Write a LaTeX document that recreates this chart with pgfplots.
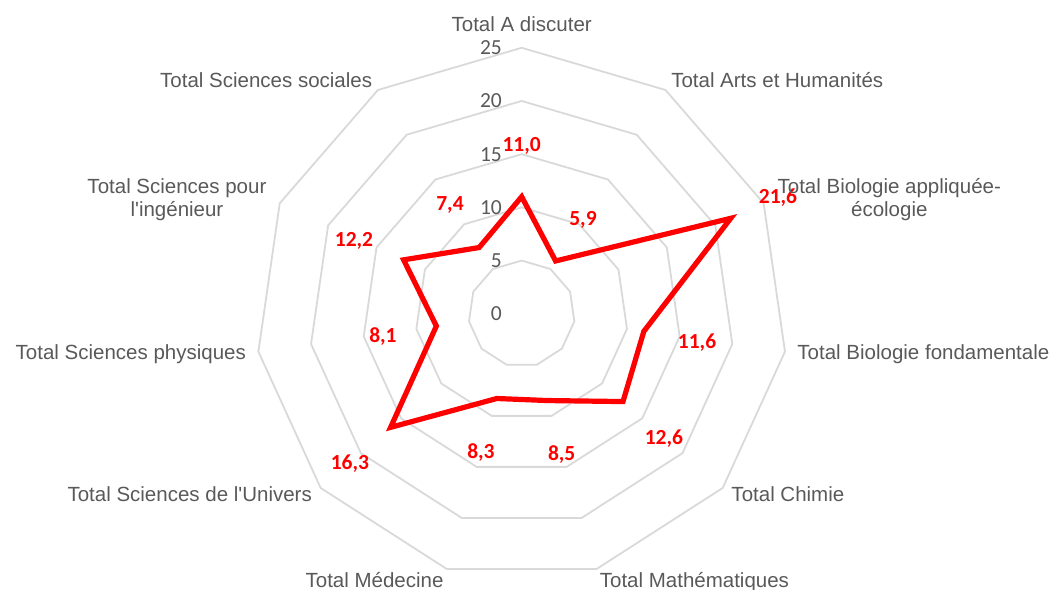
\documentclass[border=0pt]{standalone}
\usepackage{fontspec}
\setmainfont{Liberation Sans}
\newfontfamily\calibri{Carlito}
\usepackage{pgfplots}
\pgfplotsset{compat=1.18}
\definecolor{gridgray}{HTML}{D9D9D9}
\definecolor{labelgray}{HTML}{595959}
\definecolor{seriesred}{HTML}{FF0000}

\begin{document}
\begin{tikzpicture}[
    catlab/.style={font=\fontsize{20.5}{24}\selectfont, text=labelgray, inner sep=0pt},
    ticklab/.style={font=\calibri\fontsize{21.5}{24}\selectfont, text=labelgray, inner sep=0pt, anchor=east},
    vallab/.style={font=\calibri\bfseries\fontsize{21.5}{24}\selectfont, text=seriesred, inner sep=0pt, text depth=0pt},
]
\begin{axis}[
    x=10.64pt, y=10.64pt,
    xmin=-49.03, xmax=50.50, ymin=-25.96, ymax=29.49,
    hide axis, clip=false,
]
\coordinate (sw) at (rel axis cs:0,0);
\coordinate (ne) at (rel axis cs:1,1);

% grid polygons, r = 5 ... 25
\addplot[data cs=polar, gridgray, line width=1.8pt, line join=miter, mark=none] coordinates {
  (90,5) (57.273,5) (24.545,5) (-8.182,5) (-40.909,5) (-73.636,5) (-106.364,5) (-139.091,5) (-171.818,5) (-204.545,5) (-237.273,5) (-270,5)} -- cycle;
\addplot[data cs=polar, gridgray, line width=1.8pt, line join=miter, mark=none] coordinates {
  (90,10) (57.273,10) (24.545,10) (-8.182,10) (-40.909,10) (-73.636,10) (-106.364,10) (-139.091,10) (-171.818,10) (-204.545,10) (-237.273,10) (-270,10)} -- cycle;
\addplot[data cs=polar, gridgray, line width=1.8pt, line join=miter, mark=none] coordinates {
  (90,15) (57.273,15) (24.545,15) (-8.182,15) (-40.909,15) (-73.636,15) (-106.364,15) (-139.091,15) (-171.818,15) (-204.545,15) (-237.273,15) (-270,15)} -- cycle;
\addplot[data cs=polar, gridgray, line width=1.8pt, line join=miter, mark=none] coordinates {
  (90,20) (57.273,20) (24.545,20) (-8.182,20) (-40.909,20) (-73.636,20) (-106.364,20) (-139.091,20) (-171.818,20) (-204.545,20) (-237.273,20) (-270,20)} -- cycle;
\addplot[data cs=polar, gridgray, line width=1.8pt, line join=miter, mark=none] coordinates {
  (90,25) (57.273,25) (24.545,25) (-8.182,25) (-40.909,25) (-73.636,25) (-106.364,25) (-139.091,25) (-171.818,25) (-204.545,25) (-237.273,25) (-270,25)} -- cycle;

% radial tick labels
\node[ticklab] at (axis cs:-1.85,0) {0};
\node[ticklab] at (axis cs:-1.85,5) {5};
\node[ticklab] at (axis cs:-1.85,10) {10};
\node[ticklab] at (axis cs:-1.85,15) {15};
\node[ticklab] at (axis cs:-1.85,20) {20};
\node[ticklab] at (axis cs:-1.85,25) {25};

% the series, clockwise from the top
\addplot[data cs=polar, seriesred, line width=5.2pt, line join=miter, mark=none] coordinates {
  (90,11.0)      % A discuter
  (57.273,5.9)   % Arts et Humanites
  (24.545,21.6)  % Biologie appliquee-ecologie
  (-8.182,11.6)  % Biologie fondamentale
  (-40.909,12.6) % Chimie
  (-73.636,8.5)  % Mathematiques
  (-106.364,8.3) % Medecine
  (-139.091,16.3)% Sciences de l'Univers
  (-171.818,8.1) % Sciences physiques
  (-204.545,12.2)% Sciences pour l'ingenieur
  (-237.273,7.4) % Sciences sociales
  (-270,11.0)} -- cycle;

% value labels
\node[vallab] at (axis cs:0,15.96) {11,0};
\node[vallab] at (axis cs:5.76,9.0) {5,9};
\node[vallab] at (axis cs:24.09,11.07) {21,6};
\node[vallab] at (axis cs:16.48,-2.53) {11,6};
\node[vallab] at (axis cs:13.37,-11.61) {12,6};
\node[vallab] at (axis cs:3.76,-13.05) {8,5};
\node[vallab] at (axis cs:-3.83,-12.87) {8,3};
\node[vallab] at (axis cs:-16.14,-13.99) {16,3};
\node[vallab] at (axis cs:-13.04,-1.99) {8,1};
\node[vallab] at (axis cs:-15.76,6.94) {12,2};
\node[vallab] at (axis cs:-6.74,10.32) {7,4};

% category labels
\node[catlab, anchor=base] at (axis cs:0,26.51) {Total A discuter};
\node[catlab, anchor=base west] at (axis cs:14.04,21.25) {Total Arts et Humanités};
\node[catlab, anchor=base] at (axis cs:34.55,11.33) {Total Biologie appliquée-};
\node[catlab, anchor=base] at (axis cs:34.55,9.17) {écologie};
\node[catlab, anchor=base west] at (axis cs:25.9,-4.34) {Total Biologie fondamentale};
\node[catlab, anchor=base west] at (axis cs:19.7,-17.66) {Total Chimie};
\node[catlab, anchor=base west] at (axis cs:7.33,-25.68) {Total Mathématiques};
\node[catlab, anchor=base east] at (axis cs:-7.33,-25.68) {Total Médecine};
\node[catlab, anchor=base east] at (axis cs:-19.7,-17.66) {Total Sciences de l\textquotesingle Univers};
\node[catlab, anchor=base east] at (axis cs:-25.9,-4.34) {Total Sciences physiques};
\node[catlab, anchor=base] at (axis cs:-32.4,11.33) {Total Sciences pour};
\node[catlab, anchor=base] at (axis cs:-32.4,9.17) {l\textquotesingle ingénieur};
\node[catlab, anchor=base east] at (axis cs:-14.04,21.25) {Total Sciences sociales};
\end{axis}
\pgfresetboundingbox
\path[use as bounding box] (sw) rectangle (ne);
\end{tikzpicture}
\end{document}
